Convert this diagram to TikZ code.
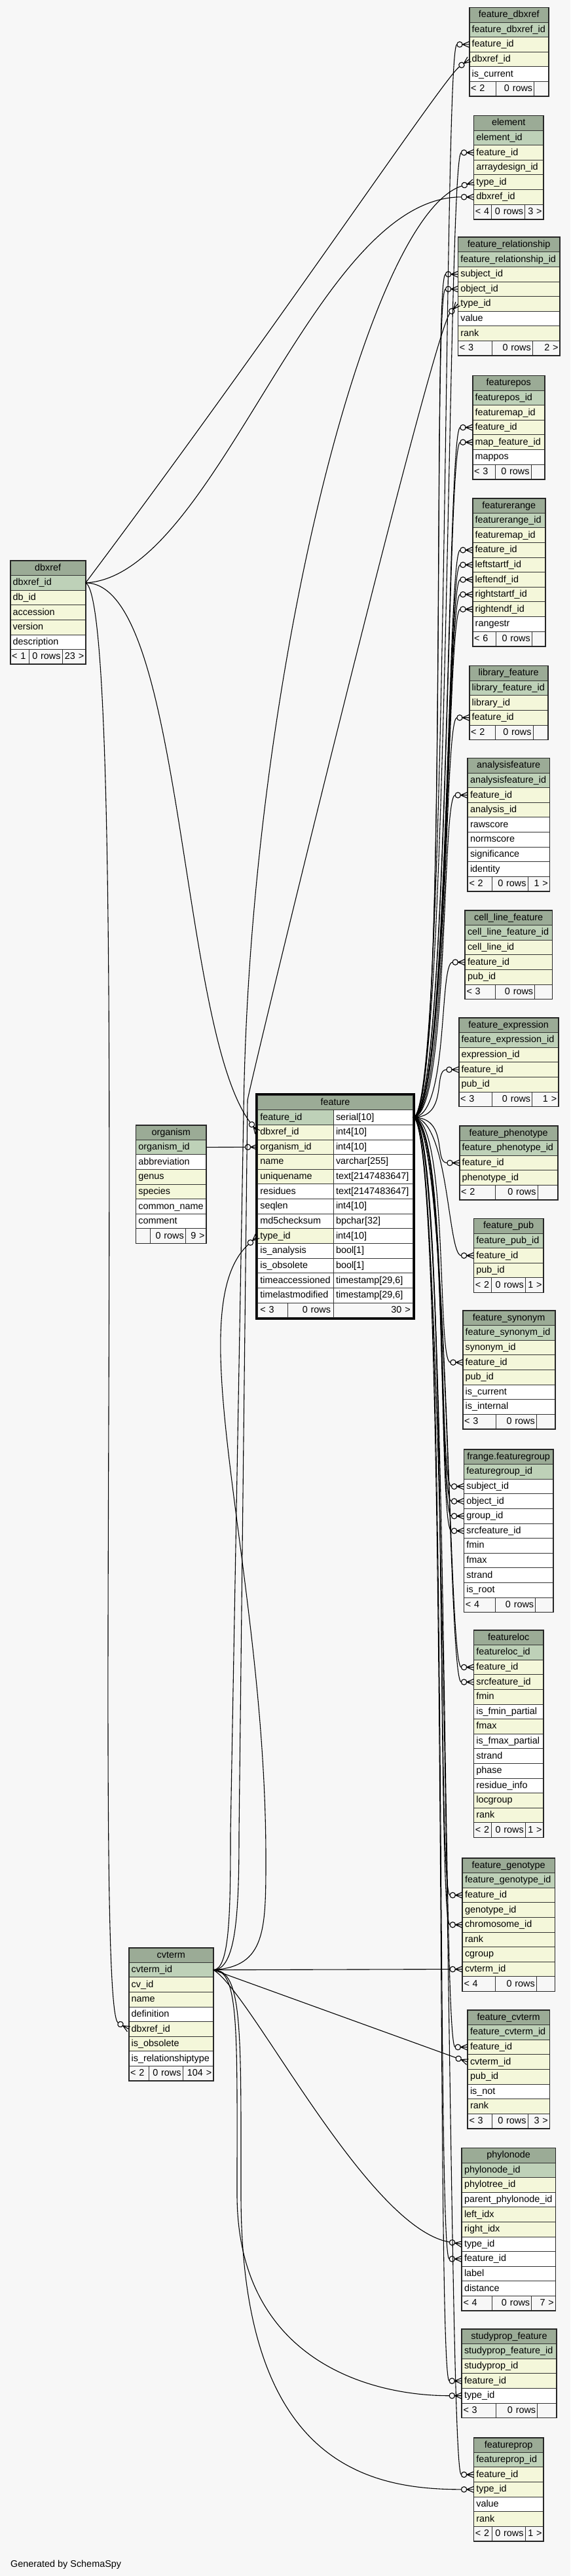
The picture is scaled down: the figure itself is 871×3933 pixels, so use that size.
\documentclass[tikz,border=0pt]{standalone}
\usepackage{fontspec}
\setmainfont{Liberation Sans}
\usepackage{tikz}

\definecolor{pagebg}{HTML}{F7F7F7}
\definecolor{headgreen}{HTML}{9BAB96}
\definecolor{pk}{HTML}{BED1B8}
\definecolor{ix}{HTML}{F4F7DA}
\definecolor{wt}{HTML}{FFFFFF}

\newcommand\tablefont{\fontsize{14.4pt}{17pt}\selectfont}
\def\rowh{22.6}
\def\tstamp{timestamp[29,6]}

% crow's foot with open circle, as SchemaSpy draws it
\pgfdeclarearrow{
  name = crowodot,
  setup code = {
    \pgfarrowssettipend{0pt}
    \pgfarrowssetbackend{-19pt}
    \pgfarrowssetlineend{-18.9pt}
    \pgfarrowshullpoint{0pt}{4.6pt}
    \pgfarrowshullpoint{0pt}{-4.6pt}
    \pgfarrowshullpoint{-19pt}{4.3pt}
    \pgfarrowshullpoint{-19pt}{-4.3pt}
  },
  drawing code = {
    \pgfsetdash{}{0pt}
    \pgfpathmoveto{\pgfqpoint{0pt}{4.5pt}}
    \pgfpathlineto{\pgfqpoint{-10.5pt}{0pt}}
    \pgfpathlineto{\pgfqpoint{0pt}{-4.5pt}}
    \pgfpathmoveto{\pgfqpoint{-10.5pt}{0pt}}
    \pgfpathlineto{\pgfqpoint{0pt}{0pt}}
    \pgfusepathqstroke
    \pgfpathcircle{\pgfqpoint{-14.7pt}{0pt}}{4.2pt}
    \pgfusepathqstroke
  }
}

\tikzset{
    rowbox/.style={draw=black!80, line width=0.9pt, anchor=north west, inner xsep=4pt,
        inner ysep=0pt, outer sep=0pt, minimum height=\rowh pt, text height=11.3pt,
        text depth=3.2pt, font=\tablefont, align=left},
    headbox/.style={rowbox, fill=headgreen, align=center},
    footbox/.style={rowbox, fill=pagebg, inner xsep=2.5pt}
}

% id, title, x left, x right, y top, rows (colour/name), footer (a/b/c/x1/x2)
\newcommand\dbtable[7]{%
  \pgfmathsetmacro\tw{#4-#3-8}%
  \node[headbox, text width=\tw pt] (#1) at (#3,#5) {#2};
  \foreach \c/\r [count=\i] in {#6} {
    \node[rowbox, fill=\c, text width=\tw pt] (#1-\r) at (#3,{#5+\i*\rowh}) {\r};
    \xdef\nrows{\i}
  }
  \pgfmathsetmacro\fy{#5+(\nrows+1)*\rowh}%
  \def\tid{#1}\def\txl{#3}\def\txr{#4}%
  \dbfoot#7\relax
  \draw[tblframe] (#1.north west) rectangle (#1-foot-c.south east);
}
\def\dbfoot#1/#2/#3/#4/#5\relax{%
  \pgfmathsetmacro\wa{#4-\txl-5}\pgfmathsetmacro\wb{#5-#4-5}\pgfmathsetmacro\wc{\txr-#5-5}%
  \node[footbox, text width=\wa pt] (\tid-foot-a) at (\txl,\fy) {\mbox{#1}};
  \node[footbox, align=right, text width=\wb pt] (\tid-foot-b) at (#4,\fy) {\mbox{#2}};
  \node[footbox, align=right, text width=\wc pt] (\tid-foot-c) at (#5,\fy) {\mbox{#3}};
}

\begin{document}
\catcode`\_=12
\begin{tikzpicture}[
        x=1pt, y=-1pt,
        tblframe/.style={draw=black!85, line width=1.6pt},
        fklink/.style={line width=1.1pt, -crowodot}
    ]
    \fill[pagebg] (0,0) rectangle (871,3933);
    \useasboundingbox (0,0) rectangle (871,3933);

    % right column
    \dbtable{feature_dbxref}{feature_dbxref}{716.7}{837.7}{11.4}{pk/feature_dbxref_id, ix/feature_id, ix/dbxref_id, wt/is_current}{< 2/0 rows//757.7/815.7}
    \dbtable{element}{element}{723.3}{830}{176.5}{pk/element_id, ix/feature_id, ix/arraydesign_id, ix/type_id, ix/dbxref_id}{< 4/0 rows/3 >/750.7/801.7}
    \dbtable{feature_relationship}{feature_relationship}{699.3}{855}{362.2}{pk/feature_relationship_id, ix/subject_id, ix/object_id, ix/type_id, wt/value, ix/rank}{< 3/0 rows/2 >/751/813.3}
    \dbtable{featurepos}{featurepos}{721.7}{831.7}{573.5}{pk/featurepos_id, ix/featuremap_id, ix/feature_id, ix/map_feature_id, wt/mappos}{< 3/0 rows//756.7/811}
    \dbtable{featurerange}{featurerange}{721.7}{832.7}{760.7}{pk/featurerange_id, ix/featuremap_id, ix/feature_id, ix/leftstartf_id, ix/leftendf_id, ix/rightstartf_id, ix/rightendf_id, wt/rangestr}{< 6/0 rows//757.7/812.3}
    \dbtable{library_feature}{library_feature}{716.7}{836.7}{1016.6}{pk/library_feature_id, ix/library_id, ix/feature_id}{< 2/0 rows//756.7/814}
    \dbtable{analysisfeature}{analysisfeature}{714}{839.3}{1157.5}{pk/analysisfeature_id, ix/feature_id, ix/analysis_id, wt/rawscore, wt/normscore, wt/significance, wt/identity}{< 2/0 rows/1 >/751/806}
    \dbtable{cell_line_feature}{cell_line_feature}{710}{843.3}{1390}{pk/cell_line_feature_id, ix/cell_line_id, ix/feature_id, ix/pub_id}{< 3/0 rows//756.7/816.7}
    \dbtable{feature_expression}{feature_expression}{700.7}{852.7}{1554}{pk/feature_expression_id, ix/expression_id, ix/feature_id, ix/pub_id}{< 3/0 rows/1 >/751/812.7}
    \dbtable{feature_phenotype}{feature_phenotype}{701.7}{851.7}{1719}{pk/feature_phenotype_id, ix/feature_id, ix/phenotype_id}{< 2/0 rows//756.7/821}
    \dbtable{feature_pub}{feature_pub}{723.3}{830}{1860.5}{pk/feature_pub_id, ix/feature_id, ix/pub_id}{< 2/0 rows/1 >/750.7/802.3}
    \dbtable{feature_synonym}{feature_synonym}{706.7}{847.7}{2001}{pk/feature_synonym_id, ix/synonym_id, ix/feature_id, ix/pub_id, wt/is_current, wt/is_internal}{< 3/0 rows//757.7/819.3}
    \dbtable{featuregroup}{frange.featuregroup}{708.3}{845}{2213}{pk/featuregroup_id, wt/subject_id, wt/object_id, wt/group_id, wt/srcfeature_id, wt/fmin, wt/fmax, wt/strand, wt/is_root}{< 4/0 rows//756.7/817.7}
    \dbtable{featureloc}{featureloc}{723.3}{830}{2489}{pk/featureloc_id, ix/feature_id, ix/srcfeature_id, ix/fmin, wt/is_fmin_partial, ix/fmax, wt/is_fmax_partial, wt/strand, wt/phase, wt/residue_info, ix/locgroup, ix/rank}{< 2/0 rows/1 >/750.7/802.3}
    \dbtable{feature_genotype}{feature_genotype}{706}{847.3}{2837}{pk/feature_genotype_id, ix/feature_id, ix/genotype_id, ix/chromosome_id, ix/rank, ix/cgroup, ix/cvterm_id}{< 4/0 rows//756.7/819.3}
    \dbtable{feature_cvterm}{feature_cvterm}{714}{839.3}{3069}{pk/feature_cvterm_id, ix/feature_id, ix/cvterm_id, ix/pub_id, wt/is_not, ix/rank}{< 3/0 rows/3 >/751/806}
    \dbtable{phylonode}{phylonode}{705}{848.3}{3279.4}{pk/phylonode_id, ix/phylotree_id, wt/parent_phylonode_id, ix/left_idx, ix/right_idx, wt/type_id, wt/feature_id, wt/label, wt/distance}{< 4/0 rows/7 >/751/811.7}
    \dbtable{studyprop_feature}{studyprop_feature}{705}{850}{3556}{pk/studyprop_feature_id, ix/studyprop_id, ix/feature_id, wt/type_id}{< 3/0 rows//757.7/820.7}
    \dbtable{featureprop}{featureprop}{723.3}{830}{3721.7}{pk/featureprop_id, ix/feature_id, ix/type_id, wt/value, ix/rank}{< 2/0 rows/1 >/751/802}

    % left side
    \dbtable{dbxref}{dbxref}{15.7}{130.7}{856}{pk/dbxref_id, ix/db_id, ix/accession, ix/version, wt/description}{< 1/0 rows/23 >/44/95}
    \dbtable{organism}{organism}{207.3}{315}{1717.7}{pk/organism_id, wt/abbreviation, ix/genus, ix/species, wt/common_name, wt/comment}{/0 rows/9 >/229.3/283.3}
    \dbtable{cvterm}{cvterm}{196.7}{325.7}{2973.7}{pk/cvterm_id, ix/cv_id, ix/name, wt/definition, ix/dbxref_id, ix/is_obsolete, wt/is_relationshiptype}{< 2/0 rows/104 >/227/279.1}

    % feature, two columns
    \node[headbox, text width=229.4pt, minimum height=22.65pt] (feature) at (393.3,1672) {feature};
    \foreach \c/\r/\ty [count=\i] in {pk/feature_id/serial[10], ix/dbxref_id/int4[10], ix/organism_id/int4[10],
            ix/name/varchar[255], ix/uniquename/text[2147483647], wt/residues/text[2147483647],
            wt/seqlen/int4[10], wt/md5checksum/bpchar[32], ix/type_id/int4[10], wt/is_analysis/bool[1],
            wt/is_obsolete/bool[1], wt/timeaccessioned/\tstamp, wt/timelastmodified/\tstamp} {
        \node[rowbox, fill=\c, text width=107.7pt, minimum height=22.65pt] (feature-\r) at (393.3,{1672+\i*22.65}) {\r};
        \node[rowbox, fill=white, text width=113.7pt, minimum height=22.65pt] (feature-\r-t) at (509,{1672+\i*22.65}) {\ty};
    }
    \node[footbox, inner xsep=4pt, text width=38pt, minimum height=22.65pt] (feature-foot-a) at (393.3,1989.1) {< 3};
    \node[footbox, inner xsep=4pt, align=right, text width=61.7pt, minimum height=22.65pt] (feature-foot-b) at (439.3,1989.1) {0 rows};
    \node[footbox, inner xsep=4pt, align=right, text width=113.7pt, minimum height=22.65pt] (feature-foot-c) at (509,1989.1) {30 >};
    \draw[line width=3pt] ([shift={(-1.5,-1.5)}]feature.north west) rectangle ([shift={(1.5,1.5)}]feature-foot-c.south east);

    \node[anchor=west, font=\tablefont, inner sep=0pt] (credit) at (16,3915.7) {Generated by SchemaSpy};

    % dbxref.dbxref_id
    \draw[fklink] (dbxref-dbxref_id.east) .. controls +(300,-400) and +(-40,30) .. (feature_dbxref-dbxref_id.west);
    \draw[fklink] (dbxref-dbxref_id.east) .. controls +(200,-10) and +(-245,0) .. (element-dbxref_id.west);
    \draw[fklink] (dbxref-dbxref_id.east) .. controls +(150,0) and +(-120,-160) .. (feature-dbxref_id.west);
    \draw[fklink] (dbxref-dbxref_id.east) .. controls +(70,30) and +(-57,-33) .. (cvterm-dbxref_id.west);

    % organism.organism_id
    \draw[fklink] (organism-organism_id.east) -- (feature-organism_id.west);

    % cvterm.cvterm_id
    \draw[fklink] (cvterm-cvterm_id.east) .. controls +(80,-5) and +(0,110) .. (406,2837)
        .. controls (406,2400) and (270,2000) .. (feature-type_id.west);
    \draw[fklink] (cvterm-cvterm_id.east) .. controls +(25,0) and +(0,120) .. (352,2800) -- (372,1700)
        .. controls (380,1050) and (560,330) .. (element-type_id.west);
    \draw[fklink] (cvterm-cvterm_id.east) .. controls +(35,0) and +(0,120) .. (365,2800) -- (378,1680)
        .. controls (380,1660) and (660,510) .. (feature_relationship-type_id.west);
    \draw[fklink] (cvterm-cvterm_id.east) -- (feature_genotype-cvterm_id.west);
    \draw[fklink] (cvterm-cvterm_id.east) -- (feature_cvterm-cvterm_id.west);
    \draw[fklink] (cvterm-cvterm_id.east) .. controls +(55,30) and +(-145,-25) .. (phylonode-type_id.west);
    \draw[fklink] (cvterm-cvterm_id.east) .. controls +(40,0) and +(0,-250) .. (362,3350)
        .. controls (362,3600) and (560,3657.7) .. (studyprop_feature-type_id.west);
    \draw[fklink] (cvterm-cvterm_id.east) .. controls +(45,0) and +(0,-250) .. (368,3350)
        .. controls (368,3760) and (560,3800.8) .. (featureprop-type_id.west);

    % feature.feature_id
    \foreach \tgt in {feature_dbxref-feature_id, element-feature_id, feature_relationship-subject_id,
            feature_relationship-object_id, featurepos-feature_id, featurepos-map_feature_id,
            featurerange-feature_id, featurerange-leftstartf_id, featurerange-leftendf_id,
            featurerange-rightstartf_id, featurerange-rightendf_id, library_feature-feature_id,
            analysisfeature-feature_id, cell_line_feature-feature_id, feature_expression-feature_id,
            feature_phenotype-feature_id, feature_pub-feature_id, feature_synonym-feature_id,
            featuregroup-subject_id, featuregroup-object_id, featuregroup-group_id, featuregroup-srcfeature_id,
            featureloc-feature_id, featureloc-srcfeature_id, feature_genotype-feature_id,
            feature_genotype-chromosome_id, feature_cvterm-feature_id, phylonode-feature_id,
            studyprop_feature-feature_id, featureprop-feature_id} {
        \draw[fklink] (feature-feature_id-t.east) .. controls +(55,0) and +(-40,0) .. (\tgt.west);
    }

\end{tikzpicture}
\end{document}
